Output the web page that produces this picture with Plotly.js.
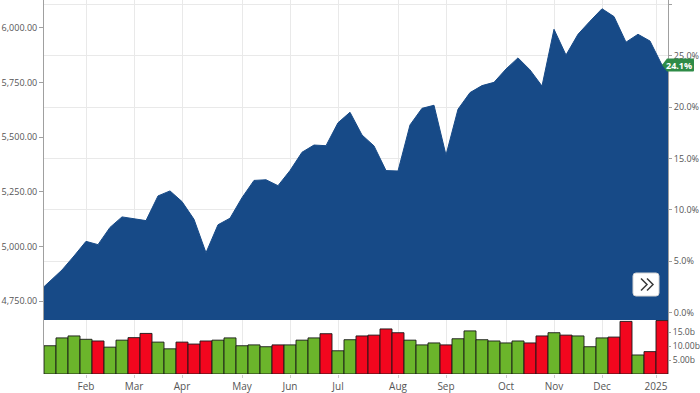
<!DOCTYPE html>
<html>
<head>
<meta charset="utf-8">
<script src="https://cdn.plot.ly/plotly-3.0.1.min.js"></script>
<style>
  html, body { margin: 0; padding: 0; background: #ffffff; }
  #chart { width: 700px; height: 393px; }
</style>
</head>
<body>
<div id="chart"></div>
<script>
// ---- Data ----
// Weekly closing level of the index (first value is one week before the first volume bar)
const prices = [
  4790, 4842, 4892, 4956, 5023, 5008, 5087, 5135, 5125, 5118,
  5231, 5254, 5205, 5124, 4971, 5099, 5129, 5223, 5302, 5305,
  5278, 5347, 5431, 5464, 5461, 5566, 5614, 5510, 5460, 5347,
  5345, 5556, 5632, 5646, 5418, 5628, 5704, 5736, 5751, 5812,
  5863, 5808, 5734, 5994, 5876, 5971, 6031, 6088, 6052, 5935,
  5971, 5940, 5830
];
// Weekly volume, in billions
const volumes = [
  10.1, 12.9, 13.6, 12.4, 11.8, 9.6, 12.1, 13.0, 14.5, 11.4,
  9.0, 11.4, 10.7, 11.8, 12.1, 12.9, 10.1, 10.4, 9.75, 10.4,
  10.4, 12.1, 12.9, 14.4, 8.3, 12.25, 13.6, 13.9, 16.1, 14.75,
  12.1, 10.4, 11.1, 10.4, 12.6, 15.4, 12.25, 11.8, 11.1, 11.8,
  11.1, 13.6, 14.75, 13.9, 13.6, 9.75, 12.9, 13.2, 18.8, 6.8,
  8.0, 19.1
];
// Reference level for the percent scale (0.0%)
const baseValue = 4698;
// Month tick labels
const monthLabels = ["Feb", "Mar", "Apr", "May", "Jun", "Jul", "Aug", "Sep", "Oct", "Nov", "Dec", "2025"];
const monthTickWeeks = [3, 7, 11, 16, 20, 24, 29, 33, 38, 42, 46, 50.5];
const volumeTicks = [5, 10, 15];
const volumeTickLabels = ["5.00b", "10.00b", "15.0b"];

// ---- Build the figure ----
const xRange = [-0.5, volumes.length - 0.5];
const priceRange = [4663, 6128];
const pctRange = priceRange.map(p => (p / baseValue - 1) * 100);

const priceX = prices.map((_, i) => i - 1);
const areaX = priceX.concat([xRange[1]]);
const areaY = prices.concat([prices[prices.length - 1]]);
const pctY = prices.map(p => (p / baseValue - 1) * 100);

const volX = volumes.map((_, i) => i);
const GREEN = '#6bb52b', RED = '#f2061e';
const volColors = volumes.map((_, i) => prices[i + 1] < prices[i] ? RED : GREEN);

const lastPrice = prices[prices.length - 1];
const lastPct = ((lastPrice / baseValue - 1) * 100).toFixed(1) + '%';

const FONT = "'Open Sans', sans-serif";
const LABEL = '#555555';
const GRID = '#e9e9e9';
const LINE = '#a0a0a0';

const volDomainTop = 54 / 374;
const priceDomain = [volDomainTop, 1];

const traces = [
  {
    type: 'bar',
    x: volX,
    y: volumes,
    xaxis: 'x',
    yaxis: 'y',
    width: 1,
    marker: { color: volColors, line: { color: 'rgba(25,25,25,0.9)', width: 1 } },
    hoverinfo: 'skip'
  },
  {
    // percent scale carrier (invisible)
    type: 'scatter',
    mode: 'lines',
    x: priceX,
    y: pctY,
    xaxis: 'x',
    yaxis: 'y2',
    line: { color: 'rgba(0,0,0,0)', width: 0 },
    hoverinfo: 'skip'
  },
  {
    type: 'scatter',
    mode: 'lines',
    x: areaX,
    y: areaY,
    xaxis: 'x',
    yaxis: 'y3',
    fill: 'tozeroy',
    fillcolor: '#174a87',
    line: { color: '#174a87', width: 1 },
    hoverinfo: 'skip'
  }
];

const layout = {
  width: 700,
  height: 393,
  margin: { l: 44, r: 32, t: 0, b: 19 },
  paper_bgcolor: '#ffffff',
  plot_bgcolor: '#ffffff',
  showlegend: false,
  bargap: 0,
  font: { family: FONT, size: 9, color: LABEL },
  xaxis: {
    range: xRange,
    anchor: 'y',
    tickmode: 'array',
    tickvals: monthTickWeeks,
    ticktext: monthLabels,
    showgrid: true,
    gridcolor: GRID,
    gridwidth: 1,
    zeroline: false,
    showline: false,
    ticks: 'outside',
    ticklen: 3,
    tickcolor: '#cccccc',
    tickfont: { family: FONT, size: 10, color: LABEL },
    fixedrange: true
  },
  yaxis: {
    domain: [0, volDomainTop],
    range: [0, 19.3],
    side: 'right',
    tickmode: 'array',
    tickvals: volumeTicks,
    ticktext: volumeTickLabels,
    showgrid: false,
    zeroline: false,
    showline: true,
    mirror: true,
    linecolor: LINE,
    linewidth: 1,
    ticks: 'outside',
    ticklen: 2,
    tickcolor: LINE,
    tickfont: { family: FONT, size: 8.6, color: LABEL },
    fixedrange: true
  },
  yaxis2: {
    domain: priceDomain,
    anchor: 'x',
    range: pctRange,
    side: 'right',
    tick0: 0,
    dtick: 5,
    tickformat: '.1f',
    ticksuffix: '%',
    showgrid: true,
    gridcolor: GRID,
    zeroline: false,
    showline: true,
    linecolor: LINE,
    linewidth: 1,
    ticks: 'outside',
    ticklen: 3,
    tickcolor: LINE,
    tickfont: { family: FONT, size: 9, color: LABEL },
    fixedrange: true
  },
  yaxis3: {
    domain: priceDomain,
    overlaying: 'y2',
    anchor: 'x',
    side: 'left',
    range: priceRange,
    tick0: 4750,
    dtick: 250,
    tickformat: ',.2f',
    showgrid: false,
    zeroline: false,
    showline: true,
    linecolor: LINE,
    linewidth: 1,
    ticks: 'outside',
    ticklen: 4,
    tickcolor: LINE,
    tickfont: { family: FONT, size: 9, color: LABEL },
    fixedrange: true
  },
  shapes: [
    {
      type: 'path',
      xref: 'paper', xsizemode: 'pixel', xanchor: 1,
      yref: 'y3', ysizemode: 'pixel', yanchor: lastPrice,
      path: 'M -6,0 L -1,6.5 L 25,6.5 Q 26,6.5 26,5.5 L 26,-5.5 Q 26,-6.5 25,-6.5 L -1,-6.5 Z',
      fillcolor: '#2e8b47',
      line: { width: 0 },
      layer: 'above'
    },
    {
      type: 'path',
      xref: 'paper', xsizemode: 'pixel', xanchor: 1,
      yref: 'paper', ysizemode: 'pixel', yanchor: (374 - 284.5) / 374,
      path: 'M -32,-11.5 L -12,-11.5 Q -9,-11.5 -9,-8.5 L -9,8.5 Q -9,11.5 -12,11.5 L -32,11.5 Q -35,11.5 -35,8.5 L -35,-8.5 Q -35,-11.5 -32,-11.5 Z',
      fillcolor: '#ffffff',
      line: { color: '#d4d4d4', width: 1 },
      layer: 'above'
    },
    {
      type: 'path',
      xref: 'paper', xsizemode: 'pixel', xanchor: 1,
      yref: 'paper', ysizemode: 'pixel', yanchor: (374 - 284.5) / 374,
      path: 'M -27,6 L -21,0 L -27,-6 M -21,6 L -15,0 L -21,-6',
      fillcolor: 'rgba(0,0,0,0)',
      line: { color: '#3a3a3a', width: 1.5 },
      layer: 'above'
    }
  ],
  annotations: [
    {
      xref: 'paper', x: 1, xshift: 10.5, xanchor: 'center',
      yref: 'y3', y: lastPrice, yanchor: 'middle',
      text: '<b>' + lastPct + '</b>',
      showarrow: false,
      font: { family: FONT, size: 9, color: '#ffffff' }
    }
  ]
};

Plotly.newPlot('chart', traces, layout, { displayModeBar: false, staticPlot: true });
</script>
</body>
</html>
